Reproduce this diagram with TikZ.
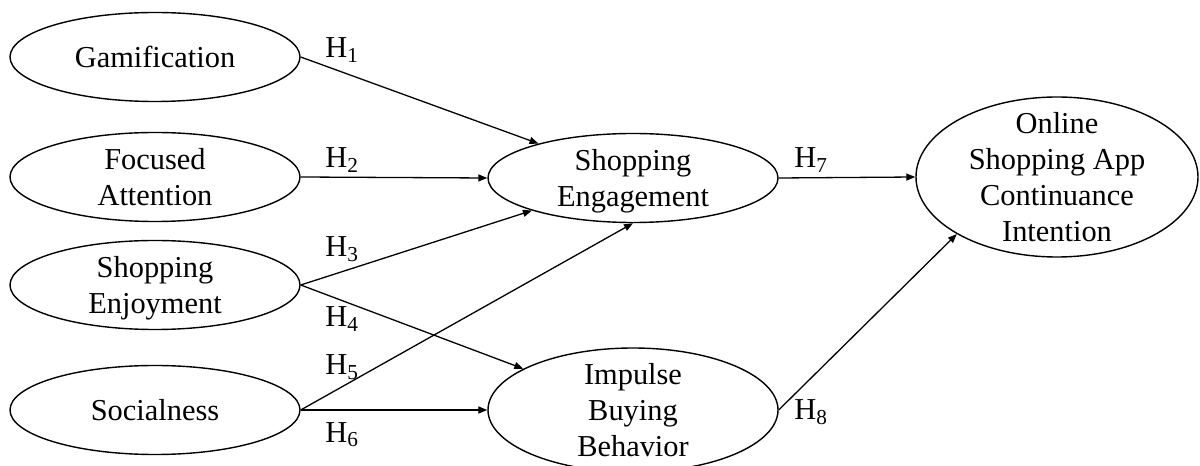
\documentclass[tikz,border=0pt]{standalone}
\usepackage{fontspec}
\setmainfont{Liberation Serif}
\usetikzlibrary{arrows.meta,shapes.geometric}

\newcommand{\constructfont}{\fontsize{15.2}{18}\selectfont}

\tikzset{
	construct/.style={draw, ellipse, line width=0.7pt, inner sep=0pt, minimum width=145pt, minimum height=44.5pt},
	ctext/.style={align=center, inner sep=0pt, text depth=0pt, font=\constructfont},
	hyp/.style={anchor=base west, inner sep=0pt, font=\constructfont},
	link/.style={-{Triangle[length=4.5pt,width=3.5pt]}, line width=0.65pt}
}

\begin{document}
\begin{tikzpicture}[x=0.5pt,y=0.5pt]
	\useasboundingbox (0,0) rectangle (1200,466);
	
	% constructs
	\node[construct] (gam) at (155,409) {};
	\node[construct] (foc) at (155,289) {};
	\node[construct] (enj) at (155,181) {};
	\node[construct] (soc) at (155,56) {};
	\node[construct] (eng) at (633,288) {};
	\node[construct, minimum height=62pt] (imp) at (633,56) {};
	\node[construct, minimum width=141pt, minimum height=80pt] (cont) at (1057,289) {};
	
	\node[ctext] (gam-t) at (gam) {Gamification};
	\node[ctext] (foc-t) at (foc) {Focused\\Attention};
	\node[ctext] (enj-t) at (enj) {Shopping\\Enjoyment};
	\node[ctext] (soc-t) at (soc) {Socialness};
	\node[ctext] (eng-t) at (eng) {Shopping\\Engagement};
	\node[ctext] (imp-t) at (imp) {Impulse\\Buying\\Behavior};
	\node[ctext] (cont-t) at (cont) {Online\\Shopping App\\Continuance\\Intention};
	
	% hypotheses
	\draw[link] (gam.east) -- (eng);
	\draw[link] (foc.east) -- (eng.west);
	\draw[link] (enj.east) -- (eng);
	\draw[link] (enj.east) -- (imp);
	\draw[link] (soc.east) -- (eng.south);
	\draw[link] (soc.east) -- (imp.west);
	\draw[link] (eng.east) -- (cont.west);
	\draw[link] (imp.east) -- (cont.south west);
	
	\node[hyp] (h1) at (325,408) {H\textsubscript{1}};
	\node[hyp] (h2) at (325,298) {H\textsubscript{2}};
	\node[hyp] (h3) at (325,209) {H\textsubscript{3}};
	\node[hyp] (h4) at (325,139) {H\textsubscript{4}};
	\node[hyp] (h5) at (325,91) {H\textsubscript{5}};
	\node[hyp] (h6) at (325,24) {H\textsubscript{6}};
	\node[hyp] (h7) at (794,298) {H\textsubscript{7}};
	\node[hyp] (h8) at (794,46) {H\textsubscript{8}};
\end{tikzpicture}
\end{document}
